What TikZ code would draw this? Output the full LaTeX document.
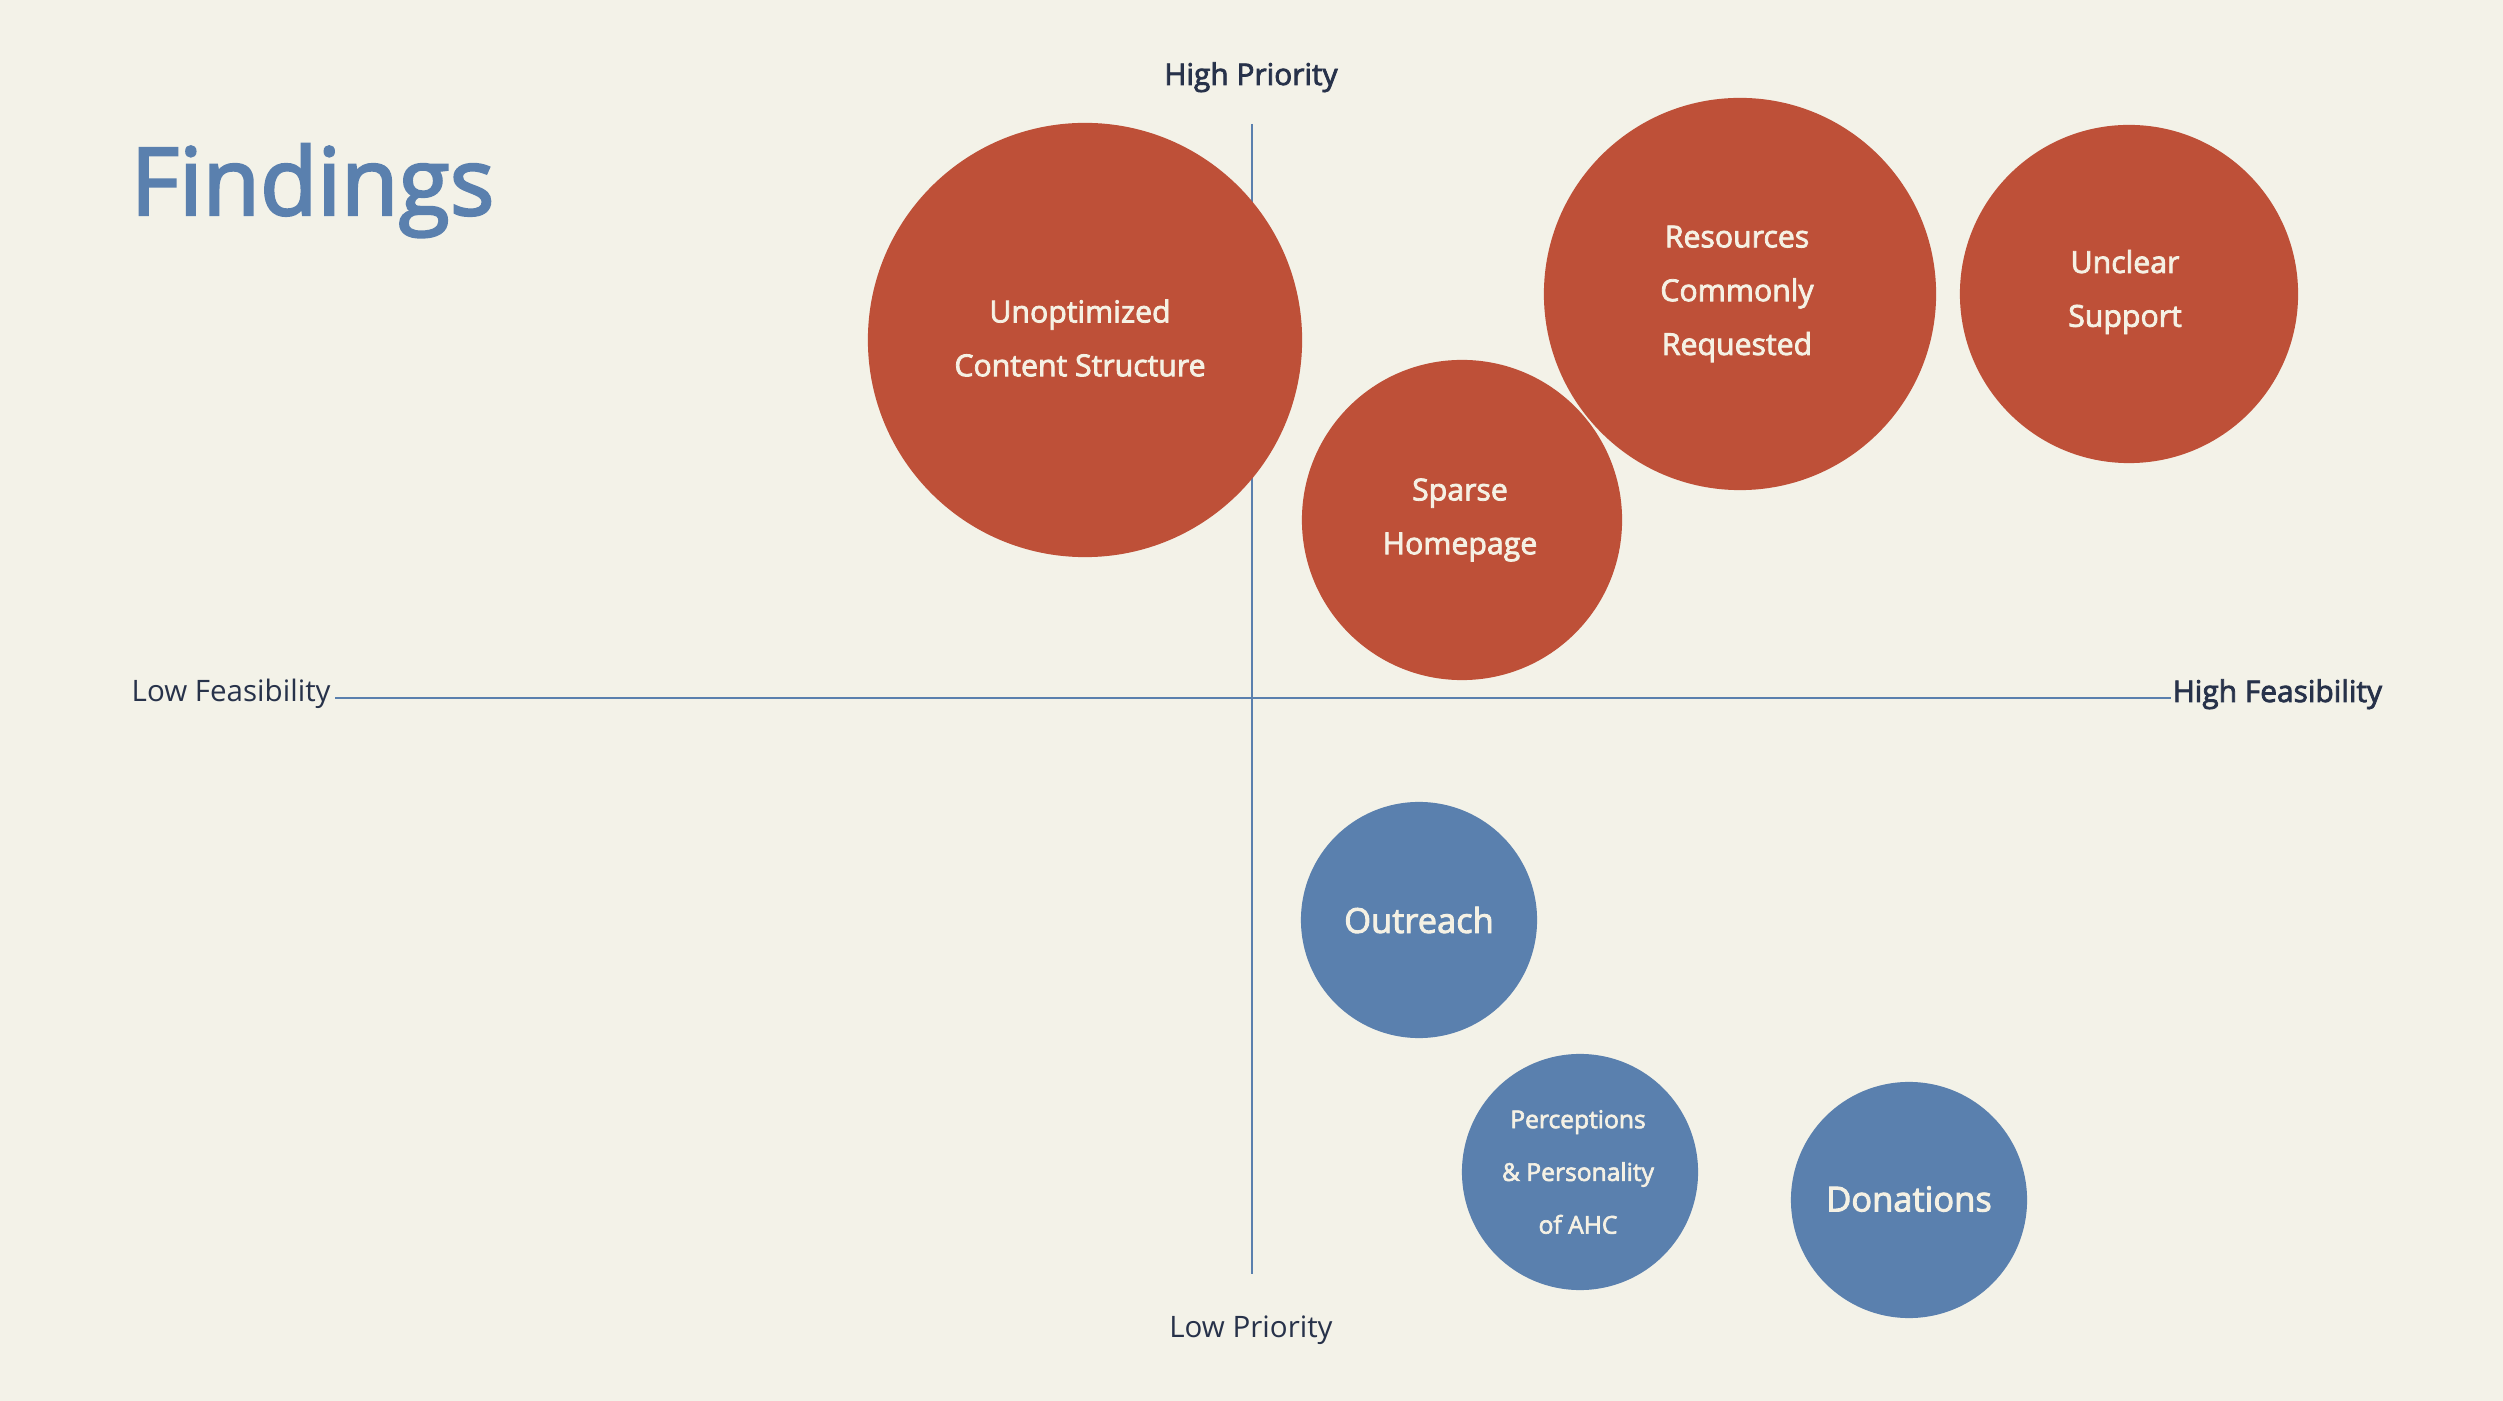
\documentclass[tikz,border=0pt]{standalone}
\usepackage{fontspec}
\setmainfont{Open Sans}
\newfontfamily\semib[FakeBold=2.6]{Open Sans}
\newfontfamily\lightf{Open Sans}
\definecolor{bgc}{HTML}{F3F2E8}
\definecolor{redc}{HTML}{BE5038}
\definecolor{bluec}{HTML}{5A80AE}
\definecolor{darkc}{HTML}{27324A}
\definecolor{txtc}{HTML}{F5F1E4}
\tikzset{
  redball/.style={circle, fill=redc, inner sep=0pt},
  blueball/.style={circle, fill=bluec, inner sep=0pt},
  balltext/.style={text=txtc, align=center, font={\semib\fontsize{8.6}{15.3}\selectfont}},
  bigtext/.style={text=txtc, align=center, font={\semib\fontsize{9.8}{15.3}\selectfont}},
  smalltext/.style={text=txtc, align=center, font={\semib\fontsize{7}{15}\selectfont}},
  axis/.style={draw=bluec, line width=0.6pt},
  hilab/.style={text=darkc, font={\semib\fontsize{8.5}{10}\selectfont}, inner sep=0pt},
  lolab/.style={text=darkc, font={\lightf\fontsize{8.4}{10}\selectfont}, inner sep=0pt}
}
\begin{document}
\begin{tikzpicture}[x=0.01cm, y=-0.01cm]
\path[fill=bgc] (0,0) rectangle (2503,1401);
\useasboundingbox (0,0) rectangle (2503,1401);
% title
\node[anchor=base west, inner sep=0pt, text=bluec, font={\semib\fontsize{26.6}{30}\selectfont}] (title) at (130,215) {Findings};
% axes
\coordinate (vtop) at (1252,124);
\coordinate (vbot) at (1252,1274);
\coordinate (hl) at (335,698);
\coordinate (hr) at (2171,698);
\draw[axis] (vtop) -- (vbot);
\draw[axis] (hl) -- (hr);
% axis labels
\node[hilab, anchor=base] (hp) at (1251,85) {High Priority};
\node[lolab, anchor=base] (lp) at (1251,1337) {Low Priority};
\node[lolab, anchor=base west] (lf) at (131,702) {Low Feasibility};
\node[hilab, anchor=base west] (hf) at (2172,702) {High Feasibility};
% red circles
\node[redball, minimum size=4.34cm] (c1) at (1085,340) {};
\node[balltext] (t1) at (1080,338) {Unoptimized\\Content Structure};
\node[redball, minimum size=3.92cm] (c2) at (1740,294) {};
\node[balltext] (t2) at (1737,294) {Resources\\Commonly\\Requested};
\node[redball, minimum size=3.38cm] (c3) at (2129,294) {};
\node[balltext] (t3) at (2125,292) {Unclear\\Support};
\node[redball, minimum size=3.20cm] (c4) at (1462,520) {};
\node[balltext] (t4) at (1460,520) {Sparse\\Homepage};
% blue circles
\node[blueball, minimum size=2.36cm] (c5) at (1419,920) {};
\node[bigtext] (t5) at (1419,920) {Outreach};
\node[blueball, minimum size=2.36cm] (c6) at (1580,1172) {};
\node[smalltext] (t6) at (1578,1172) {Perceptions\\\& Personality\\of AHC};
\node[blueball, minimum size=2.36cm] (c7) at (1909,1200) {};
\node[bigtext] (t7) at (1909,1199) {Donations};
\end{tikzpicture}
\end{document}
